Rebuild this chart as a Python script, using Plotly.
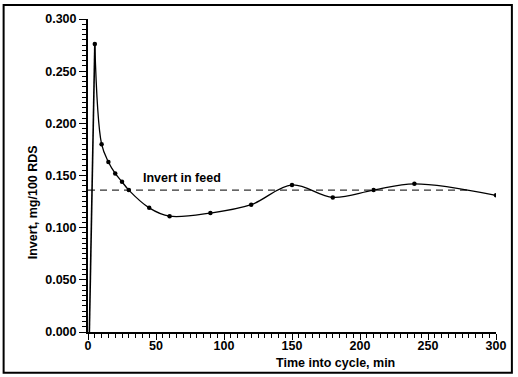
import plotly.graph_objects as go

# Data
rise_x = [1, 5]
rise_y = [0.0, 0.276]
time_min = [5, 10, 15, 20, 25, 30, 45, 60, 90, 120, 150, 180, 210, 240, 300]
invert = [0.276, 0.180, 0.163, 0.152, 0.144, 0.136, 0.119, 0.111, 0.114, 0.122,
          0.141, 0.129, 0.136, 0.142, 0.131]
feed_x = [0, 280]
feed_y = [0.136, 0.136]
x_ticks = [0, 50, 100, 150, 200, 250, 300]
y_ticks = [0.0, 0.05, 0.1, 0.15, 0.2, 0.25, 0.3]

W, H = 518, 377
L, R, T, B = 88, 19, 17, 45
pw, ph = W - L - R, H - T - B

FONT = dict(family="Liberation Sans, Arial, sans-serif", size=12.5, color="black", weight="bold")

fig = go.Figure()
fig.add_trace(go.Scatter(x=feed_x, y=feed_y, mode="lines",
                         line=dict(color="#333", width=1.2, dash="7px,5px"), showlegend=False))
fig.add_trace(go.Scatter(x=rise_x, y=rise_y, mode="lines",
                         line=dict(color="black", width=1.6), showlegend=False))
fig.add_trace(go.Scatter(x=time_min, y=invert, mode="lines+markers",
                         line=dict(color="black", width=1.3, shape="spline", smoothing=1.0),
                         marker=dict(color="black", size=4.5), showlegend=False))

fig.update_layout(
    width=W, height=H,
    margin=dict(l=L, r=R, t=T, b=B, pad=0),
    paper_bgcolor="white", plot_bgcolor="white",
    font=FONT,
    xaxis=dict(range=[0, 300], tickvals=x_ticks, ticktext=[str(v) for v in x_ticks],
               showgrid=False, zeroline=False, showline=True, linecolor="black", linewidth=2,
               ticks="outside", ticklen=6, tickwidth=1.3, tickcolor="black",
               ticklabelstandoff=-5,
               minor=dict(dtick=5, ticks="outside", ticklen=4, tickwidth=1, tickcolor="black", showgrid=False),
               tickfont=FONT),
    yaxis=dict(range=[0, 0.3], tickvals=y_ticks, ticktext=[f"{v:.3f}" for v in y_ticks],
               showgrid=False, zeroline=False, showline=True, linecolor="black", linewidth=2,
               ticks="outside", ticklen=7, tickwidth=1.3, tickcolor="black",
               minor=dict(dtick=0.005, ticks="outside", ticklen=4, tickwidth=1, tickcolor="black", showgrid=False),
               tickfont=FONT),
)

# Axis titles (offset like in the reference)
fig.add_annotation(text="Time into cycle, min", xref="paper", yref="paper",
                   x=(337.5 - L) / pw, y=(H - B - 363) / ph, showarrow=False,
                   xanchor="center", yanchor="middle", font=FONT)
fig.add_annotation(text="Invert, mg/100 RDS", xref="paper", yref="paper",
                   x=(32 - L) / pw, y=(H - B - 201) / ph, showarrow=False, textangle=-90,
                   xanchor="center", yanchor="middle", font=FONT)
fig.add_annotation(text="Invert in feed", x=39, y=0.148, xref="x", yref="y",
                   showarrow=False, xanchor="left", yanchor="middle", font=FONT)

# Outer frame
fig.add_shape(type="rect", xref="paper", yref="paper",
              x0=(3 - L) / pw, x1=(515 - L) / pw,
              y0=(H - B - 373) / ph, y1=(H - B - 3) / ph,
              line=dict(color="black", width=2), layer="above")

fig.write_html("out.html")
